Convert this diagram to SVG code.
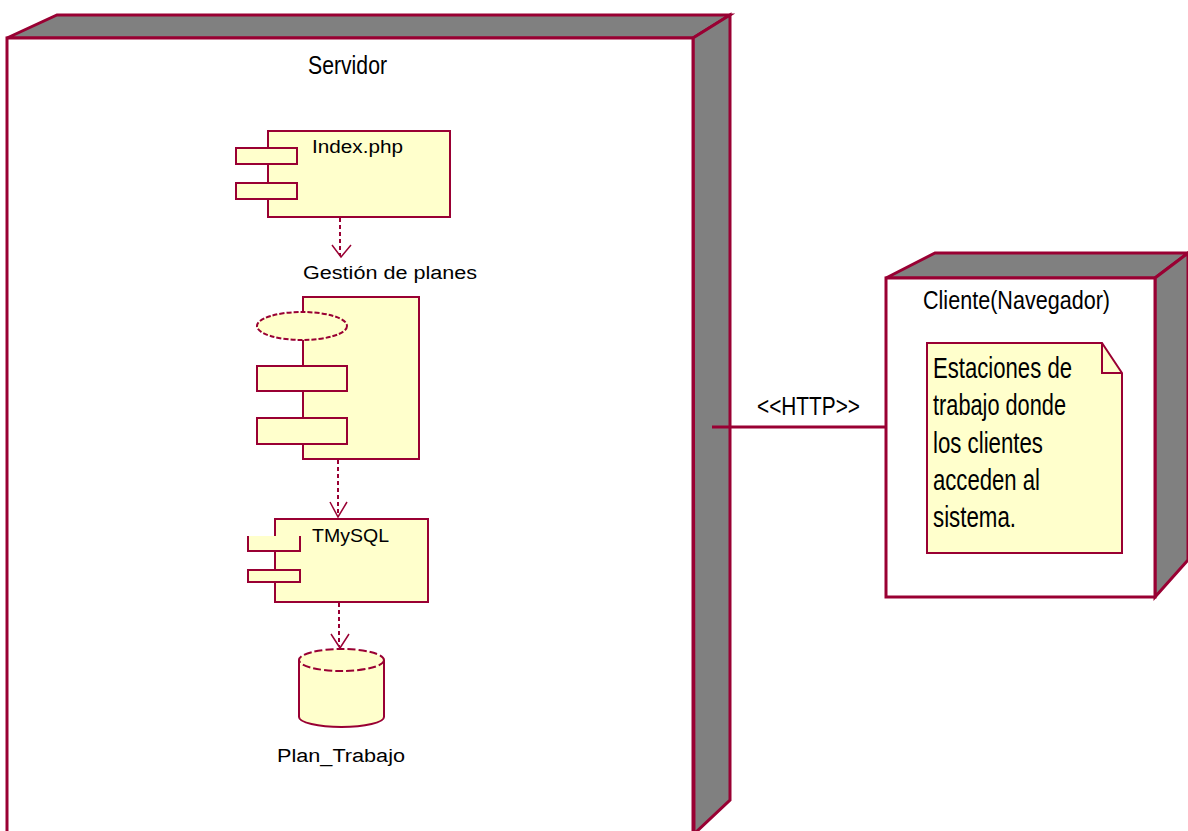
<svg xmlns="http://www.w3.org/2000/svg" width="1188" height="831" viewBox="0 0 1188 831">
<style>
.node{stroke:#990033;stroke-width:3;stroke-linejoin:miter}
.face{fill:#ffffff}
.side{fill:#808080}
.comp{fill:#ffffcc;stroke:#990033;stroke-width:2}
.dash{fill:none;stroke:#990033;stroke-width:2;stroke-dasharray:4 3}
.head{fill:none;stroke:#990033;stroke-width:1.5}
.lbl{font-family:"Liberation Sans",Arial,sans-serif;font-size:18px;fill:#000}
.nar{font-family:"Liberation Sans",Arial,sans-serif;font-size:26px;fill:#000}
.note{font-family:"Liberation Sans",Arial,sans-serif;font-size:29px;fill:#000}
</style>
<rect width="1188" height="831" fill="#ffffff"/>
<g id="servidor">
<polygon class="node side" points="7,38 57,15 730,15 693,38"/>
<polygon class="node side" points="693,38 730,15 730,800 694,834"/>
<rect class="node face" x="7" y="38" width="686" height="800"/>
<text class="nar" x="308" y="74" font-size="28" textLength="79" lengthAdjust="spacingAndGlyphs">Servidor</text>
</g>
<g id="index">
<rect class="comp" x="268" y="131" width="182" height="86"/>
<rect class="comp" x="236" y="148" width="61" height="16"/>
<rect class="comp" x="236" y="183" width="61" height="16"/>
<text class="lbl" x="312" y="153" textLength="91" lengthAdjust="spacingAndGlyphs">Index.php</text>
</g>
<g id="gestion">
<rect class="comp" x="303" y="297" width="116" height="162"/>
<ellipse class="comp" cx="302" cy="326" rx="45" ry="14" stroke-dasharray="5 2"/>
<rect class="comp" x="257" y="366" width="90" height="25"/>
<rect class="comp" x="257" y="418" width="90" height="26"/>
<text class="lbl" x="303" y="279" textLength="174" lengthAdjust="spacingAndGlyphs">Gestión de planes</text>
</g>
<g id="tmysql">
<rect class="comp" x="275" y="519" width="153" height="83"/>
<path class="comp" d="M248,536 V551 H300 V536"/>
<rect class="comp" x="248" y="570" width="52" height="12"/>
<text class="lbl" x="312" y="542" textLength="77" lengthAdjust="spacingAndGlyphs">TMySQL</text>
</g>
<g id="plan_trabajo">
<path class="comp" d="M299,660 V717 A42.5,10 0 0 0 384,717 V660"/>
<ellipse class="comp" cx="341.5" cy="660" rx="42.5" ry="11" stroke-dasharray="8 3"/>
<text class="lbl" x="277" y="762" textLength="128" lengthAdjust="spacingAndGlyphs">Plan_Trabajo</text>
</g>
<g id="cliente">
<polygon class="node side" points="886,278 935,253 1188,253 1155,278"/>
<polygon class="node side" points="1155,278 1188,253 1188,560 1155,597"/>
<rect class="node face" x="886" y="278" width="269" height="319"/>
<text class="nar" x="923" y="309" textLength="187" lengthAdjust="spacingAndGlyphs">Cliente(Navegador)</text>
</g>
<g id="nota">
<path d="M927,343 H1102 L1122,373 V553 H927 Z" fill="#ffffcc" stroke="#990033" stroke-width="2"/>
<path d="M1102,343 V373 H1122" fill="none" stroke="#990033" stroke-width="2"/>
<text class="note" x="933" y="378" textLength="139" lengthAdjust="spacingAndGlyphs">Estaciones de</text>
<text class="note" x="933" y="415" textLength="133" lengthAdjust="spacingAndGlyphs">trabajo donde</text>
<text class="note" x="933" y="453" textLength="110" lengthAdjust="spacingAndGlyphs">los clientes</text>
<text class="note" x="933" y="490" textLength="107" lengthAdjust="spacingAndGlyphs">acceden al</text>
<text class="note" x="933" y="527" textLength="83" lengthAdjust="spacingAndGlyphs">sistema.</text>
</g>
<g id="connectors">
<line class="dash" x1="340" y1="218" x2="340" y2="256"/>
<polyline class="head" points="332,245 341,257 351,245"/>
<line class="dash" x1="338" y1="460" x2="338" y2="516"/>
<polyline class="head" points="330,502 338,517 347,502"/>
<line class="dash" x1="339" y1="603" x2="339" y2="646"/>
<polyline class="head" points="331,634 340,648 349,634"/>
<line x1="712" y1="427" x2="886" y2="427" stroke="#990033" stroke-width="3"/>
<text class="nar" x="757" y="415" font-size="23" textLength="103" lengthAdjust="spacingAndGlyphs">&lt;&lt;HTTP&gt;&gt;</text>
</g>
</svg>
